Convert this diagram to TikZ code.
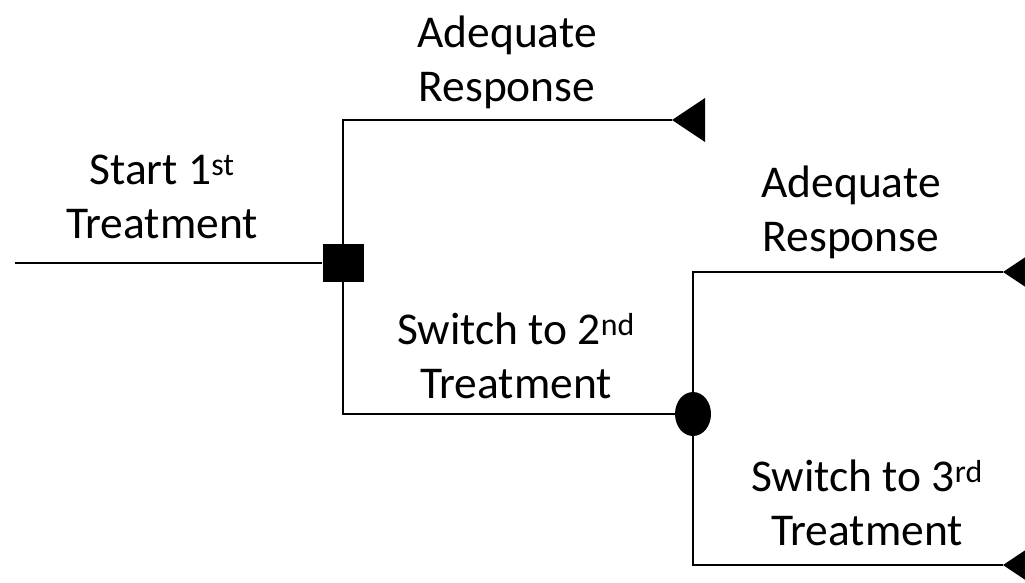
\documentclass[tikz,border=0pt]{standalone}
\usepackage{fontspec}
\setmainfont{Carlito}
\usetikzlibrary{shapes.geometric}

\newlength{\du}
\setlength{\du}{1pt}

\tikzset{
  branch/.style={line width=1.6\du, draw=black},
  decision/.style={rectangle, fill=black, minimum width=41\du, minimum height=38\du, inner sep=0pt},
  chance/.style={ellipse, fill=black, minimum width=36\du, minimum height=44\du, inner sep=0pt},
  leaf/.style={fill=black},
  lbl/.style={align=center, inner sep=0pt, font=\fontsize{45.5}{54}\selectfont},
}

\begin{document}
\begin{tikzpicture}[x=1\du, y=-1\du]
\useasboundingbox (0,0) rectangle (1025,582);
% tree
\coordinate (root) at (15,263);
\node[decision] (dec) at (343,263) {};
\node[chance] (chn) at (693,414) {};
\coordinate (tri1) at (672,120);
\coordinate (tri2) at (1003,272);
\coordinate (tri3) at (1003,565);
\draw[branch] (root) -- (dec);
\draw[branch] (dec.north) |- (tri1);
\draw[branch] (dec.south) |- (chn.west);
\draw[branch] (chn.north) |- (tri2);
\draw[branch] (chn.south) |- (tri3);
% end points
\foreach \t in {tri1,tri2,tri3}
  \fill[leaf] (\t) -- ++(33,-22) -- ++(0,44) -- cycle;
% labels
\node[lbl] (ans1) at (507,62) {Adequate\\Response};
\node[lbl] (st1) at (162,197) {Start 1\textsuperscript{st}\\Treatment};
\node[lbl] (sw2) at (516,356) {Switch to 2\textsuperscript{nd}\\Treatment};
\node[lbl] (ans2) at (851,212) {Adequate\\Response};
\node[lbl] (sw3) at (867,503) {Switch to 3\textsuperscript{rd}\\Treatment};
\end{tikzpicture}
\end{document}
